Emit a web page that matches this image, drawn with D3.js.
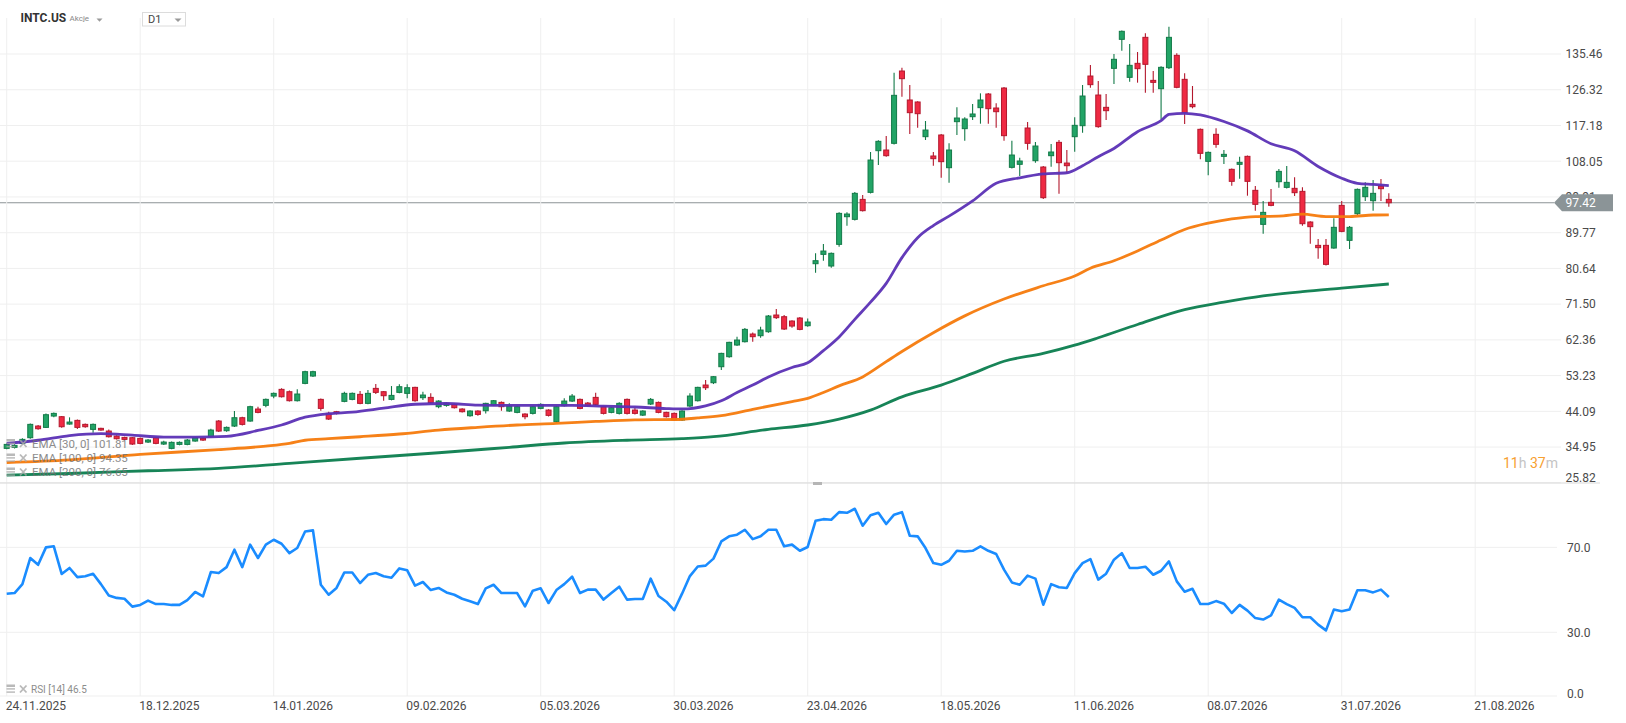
<!DOCTYPE html>
<html>
<head>
<meta charset="utf-8">
<script src="https://cdn.jsdelivr.net/npm/d3@7"></script>
<style>
  body { margin: 0; background: #fff; overflow: hidden; }
  svg text { font-family: Roboto, "Noto Sans", sans-serif; }
</style>
</head>
<body>
<div id="chart-widget"></div>
<script>
// INTC.US, D1 candles (index = trading day from 24.11.2025)
const dateLabels = ['24.11.2025', '18.12.2025', '14.01.2026', '09.02.2026', '05.03.2026', '30.03.2026',
  '23.04.2026', '18.05.2026', '11.06.2026', '08.07.2026', '31.07.2026', '21.08.2026'];
const dateIdx = [0, 17, 34, 51, 68, 85, 102, 119, 136, 153, 170, 187];

const priceTicks = [135.46, 126.32, 117.18, 108.05, 98.91, 89.77, 80.64, 71.50, 62.36, 53.23, 44.09, 34.95, 25.82];
const rsiTicks = [70, 30, 0];

const openP = [
  34.62, 34.88, 35.90, 37.35, 40.33, 39.99, 42.89, 42.72, 40.84, 41.78,
  40.76, 39.48, 39.74, 39.05, 37.77, 37.43, 37.35, 37.18, 36.24, 37.35,
  35.73, 34.62, 35.64, 35.64, 36.50, 37.18, 37.60, 41.61, 39.14, 40.33,
  42.46, 41.61, 44.68, 45.62, 48.00, 49.71, 49.11, 46.81, 51.24, 53.12,
  47.15, 43.57, 44.00, 46.64, 47.15, 48.43, 46.13, 49.96, 49.11, 47.15,
  48.94, 48.69, 50.22, 47.58, 47.66, 45.28, 45.62, 45.87, 44.68, 42.97,
  44.17, 44.25, 45.70, 46.38, 44.17, 43.83, 43.40, 43.57, 44.85, 44.42,
  41.44, 45.53, 46.72, 47.15, 46.20, 47.66, 45.28, 43.83, 43.57, 47.15,
  44.42, 43.13, 45.96, 46.38, 43.83, 43.57, 41.87, 45.45, 46.81, 50.82,
  51.41, 55.50, 58.06, 61.05, 61.90, 63.86, 63.43, 64.45, 68.72, 68.29,
  67.18, 67.95, 65.99, 81.84, 84.23, 81.25, 86.79, 93.86, 93.18, 98.29,
  100.08, 110.74, 110.91, 112.62, 131.11, 123.70, 123.19, 114.32, 109.38, 114.75,
  106.39, 118.16, 116.37, 119.43, 121.74, 125.23, 121.65, 126.76, 106.48, 107.25,
  116.54, 108.18, 106.56, 109.46, 112.87, 107.58, 114.32, 117.13, 129.83, 124.97,
  121.82, 131.79, 139.21, 129.49, 133.07, 139.72, 128.72, 126.59, 131.96, 135.12,
  128.98, 122.59, 116.20, 108.01, 114.92, 109.29, 105.97, 107.25, 109.29, 100.60,
  91.90, 97.53, 102.81, 101.36, 101.11, 100.34, 92.50, 86.53, 86.53, 85.85,
  96.76, 87.81, 94.63, 98.98, 97.95, 101.70, 98.29];
const highP = [
  35.90, 35.70, 37.20, 41.00, 40.60, 43.57, 43.80, 42.90, 42.55, 42.00,
  41.00, 41.00, 39.90, 39.48, 38.00, 37.60, 37.50, 37.40, 37.00, 37.60,
  36.58, 36.40, 36.40, 37.00, 37.60, 37.40, 39.65, 41.87, 40.20, 44.17,
  42.70, 45.50, 45.28, 47.40, 48.90, 50.00, 49.40, 49.71, 54.50, 54.50,
  47.40, 44.00, 44.20, 49.11, 48.90, 49.28, 49.54, 51.07, 49.30, 50.56,
  50.99, 50.99, 50.40, 49.11, 48.69, 46.90, 46.38, 46.10, 44.90, 44.40,
  44.40, 46.30, 47.00, 46.60, 46.13, 45.50, 43.60, 45.50, 46.13, 44.60,
  45.50, 47.41, 48.52, 47.40, 46.50, 48.86, 45.50, 45.20, 46.40, 47.40,
  45.02, 44.40, 47.49, 46.60, 44.00, 43.80, 44.40, 48.69, 50.40, 52.09,
  53.12, 59.10, 61.90, 63.18, 65.39, 64.28, 65.73, 68.70, 70.25, 68.72,
  67.40, 68.20, 67.86, 84.49, 86.87, 84.70, 95.00, 94.97, 100.17, 99.40,
  110.40, 113.40, 114.49, 130.69, 131.96, 127.53, 123.40, 118.33, 110.40, 115.00,
  112.62, 121.82, 119.26, 122.67, 125.40, 125.50, 122.84, 127.00, 113.30, 108.95,
  118.07, 112.96, 106.80, 112.45, 113.47, 110.91, 119.26, 127.53, 132.65, 128.55,
  125.23, 135.46, 141.50, 138.02, 135.97, 140.74, 131.11, 132.30, 142.45, 135.63,
  130.52, 127.28, 116.40, 110.50, 116.45, 110.91, 106.20, 109.21, 109.50, 101.70,
  97.87, 100.94, 106.05, 106.82, 103.92, 101.36, 92.70, 88.15, 88.15, 93.44,
  97.87, 91.48, 101.10, 102.64, 103.24, 103.49, 99.83];
const lowP = [
  34.40, 34.60, 35.70, 37.10, 39.40, 39.80, 42.55, 39.90, 40.70, 39.57,
  39.90, 38.63, 39.10, 37.40, 36.90, 36.70, 35.50, 35.70, 36.00, 35.70,
  35.50, 34.40, 35.40, 35.40, 36.30, 36.50, 37.40, 38.80, 38.90, 40.10,
  40.50, 41.40, 43.60, 45.11, 47.41, 47.60, 46.60, 46.60, 51.00, 52.90,
  44.25, 41.90, 43.30, 46.40, 46.90, 45.90, 45.90, 48.52, 46.81, 46.90,
  48.70, 47.41, 46.55, 46.98, 46.10, 44.85, 45.28, 44.80, 43.80, 42.72,
  42.97, 43.57, 45.50, 44.25, 43.90, 43.60, 42.04, 43.31, 44.60, 42.80,
  41.20, 45.30, 46.50, 44.60, 45.30, 45.60, 43.30, 43.60, 43.30, 43.30,
  43.30, 42.90, 45.70, 43.60, 42.50, 41.60, 41.60, 45.20, 46.60, 49.54,
  51.07, 54.65, 57.80, 60.80, 61.70, 61.90, 62.92, 64.20, 67.70, 64.90,
  65.48, 64.80, 65.73, 79.54, 82.61, 80.82, 86.19, 91.56, 92.90, 95.20,
  99.80, 107.07, 109.21, 112.30, 124.55, 115.00, 116.62, 113.47, 106.90, 103.84,
  102.56, 114.75, 113.30, 118.58, 117.64, 117.64, 116.62, 113.30, 106.20, 104.26,
  110.99, 107.67, 98.38, 106.65, 99.74, 104.94, 110.48, 115.34, 126.85, 116.60,
  118.58, 127.79, 136.31, 128.38, 128.13, 125.57, 125.57, 118.75, 131.62, 126.70,
  117.56, 121.57, 108.52, 104.43, 111.51, 107.33, 101.79, 103.58, 99.23, 95.40,
  89.51, 96.50, 101.28, 101.10, 99.15, 91.56, 86.96, 83.12, 81.40, 85.68,
  89.90, 85.59, 94.29, 97.87, 95.40, 97.87, 96.42];
const closeP = [
  35.64, 35.39, 36.92, 40.76, 39.65, 43.23, 43.57, 40.16, 41.35, 39.99,
  40.16, 40.76, 39.31, 37.60, 37.09, 36.92, 35.73, 35.90, 36.75, 35.90,
  36.24, 36.16, 36.16, 36.75, 37.35, 36.75, 39.31, 39.05, 39.99, 42.46,
  40.76, 45.28, 43.83, 47.15, 48.69, 47.83, 46.81, 48.52, 54.23, 54.23,
  44.85, 42.12, 43.57, 48.69, 48.69, 46.13, 48.69, 48.94, 48.09, 48.17,
  50.39, 50.13, 46.81, 48.26, 46.30, 46.72, 46.13, 45.02, 44.00, 44.17,
  43.31, 46.13, 46.81, 45.28, 45.45, 45.28, 42.72, 45.28, 45.87, 43.06,
  45.28, 46.72, 48.00, 44.85, 45.53, 45.87, 43.57, 45.02, 46.13, 43.57,
  43.57, 44.17, 47.15, 43.83, 42.72, 41.87, 44.17, 48.00, 50.22, 50.13,
  52.95, 58.91, 61.73, 62.32, 65.05, 63.18, 64.88, 68.46, 68.04, 65.14,
  65.90, 65.05, 66.93, 82.61, 85.08, 84.49, 94.71, 94.54, 99.83, 95.40,
  108.35, 113.13, 109.46, 124.89, 129.15, 120.46, 120.20, 116.02, 108.69, 107.93,
  110.91, 119.09, 118.84, 120.12, 123.70, 121.48, 120.71, 114.58, 109.63, 108.10,
  112.62, 111.93, 98.72, 110.40, 107.67, 106.90, 117.22, 124.72, 127.62, 116.88,
  120.97, 134.10, 141.26, 132.56, 131.71, 132.82, 128.21, 132.05, 139.72, 126.94,
  120.46, 121.99, 110.06, 110.31, 112.36, 109.80, 102.90, 107.76, 102.90, 97.02,
  94.97, 96.76, 105.45, 102.64, 100.00, 92.07, 91.31, 85.94, 81.67, 91.14,
  90.11, 91.14, 100.85, 101.36, 99.83, 101.02, 97.42];

// EMA readings [bar index, value]
const ema30 = [[0, 35.9], [4, 36.7], [8, 37.9], [12, 38.4], [16, 38.0], [20, 37.5], [24, 37.5], [28, 37.7],
  [32, 39.2], [35, 40.6], [38, 42.6], [41, 43.5], [44, 43.9], [48, 44.9], [52, 45.9], [56, 46.1], [60, 45.7],
  [64, 45.6], [68, 45.6], [72, 45.6], [76, 45.4], [80, 45.2], [84, 44.8], [86, 44.7], [89, 45.5], [91, 46.8],
  [93, 48.9], [95, 50.8], [97, 52.9], [100, 55.3], [102, 56.5], [104, 59.6], [106, 63.1], [108, 67.6],
  [110, 72.0], [112, 76.8], [114, 83.4], [116, 88.5], [118, 91.6], [120, 94.0], [123, 97.9], [126, 102.4],
  [129, 103.8], [132, 104.8], [135, 105.1], [137, 106.9], [139, 109.2], [141, 111.3], [144, 115.6],
  [147, 118.4], [148, 120.0], [150, 120.3], [152, 119.9], [155, 118.2], [158, 115.8], [161, 112.5],
  [164, 110.7], [167, 106.7], [170, 103.7], [172, 102.4], [174, 102.1], [176, 101.81]];
const ema100 = [[0, 31.0], [8, 31.7], [17, 33.1], [27, 34.3], [33, 35.2], [36, 35.9], [38, 36.7], [41, 37.1],
  [45, 37.6], [50, 38.3], [55, 39.3], [60, 40.0], [65, 40.6], [70, 41.0], [75, 41.5], [80, 41.9], [85, 42.0],
  [88, 42.4], [91, 43.0], [95, 44.6], [100, 46.6], [102, 47.4], [104, 48.9], [106, 50.6], [109, 52.9],
  [112, 56.8], [114, 59.4], [118, 64.2], [122, 68.5], [127, 72.8], [132, 76.2], [136, 78.7], [138, 80.7],
  [141, 82.6], [144, 85.1], [147, 87.9], [150, 90.6], [153, 92.2], [156, 93.3], [159, 93.9], [162, 94.0],
  [165, 94.5], [168, 93.9], [171, 93.9], [174, 94.3], [176, 94.35]];
const ema200 = [[0, 27.8], [8, 28.2], [18, 28.9], [27, 29.5], [36, 30.8], [45, 32.1], [55, 33.5], [64, 34.9],
  [71, 36.0], [79, 36.7], [86, 37.1], [90, 37.6], [97, 39.5], [102, 40.6], [106, 42.1], [110, 44.4],
  [114, 47.8], [119, 50.8], [123, 53.8], [127, 56.9], [132, 58.9], [136, 61.0], [139, 62.9], [144, 66.3],
  [150, 70.1], [155, 72.0], [160, 73.6], [165, 74.7], [170, 75.6], [176, 76.65]];

const rsi14 = [
  48.2, 48.5, 52.7, 65.0, 61.8, 70.0, 70.5, 57.5, 60.3, 56.0,
  56.4, 57.6, 52.7, 47.3, 46.2, 45.8, 42.1, 42.9, 44.9, 43.3,
  43.3, 42.9, 42.9, 45.2, 49.0, 46.9, 58.4, 57.9, 60.7, 68.9,
  60.7, 71.3, 65.0, 71.3, 73.6, 71.7, 67.3, 69.7, 77.5, 78.0,
  52.4, 47.7, 50.9, 58.2, 58.2, 53.2, 57.1, 57.9, 56.4, 55.7,
  60.1, 59.2, 52.0, 53.7, 49.9, 50.9, 48.8, 47.7, 45.8, 44.6,
  43.3, 50.7, 52.4, 48.5, 48.5, 48.5, 42.2, 49.6, 50.7, 43.8,
  49.9, 52.7, 56.2, 48.5, 50.1, 50.1, 45.4, 48.5, 51.5, 45.4,
  45.7, 45.7, 55.3, 47.1, 44.4, 40.4, 48.2, 56.5, 61.0, 61.4,
  64.7, 72.8, 75.2, 76.0, 78.3, 73.9, 75.2, 78.3, 78.3, 70.5,
  71.3, 68.4, 70.2, 82.5, 83.3, 83.0, 86.6, 86.3, 88.2, 80.2,
  85.1, 86.3, 81.0, 85.4, 86.6, 75.5, 75.2, 69.7, 62.6, 61.8,
  63.7, 68.4, 68.1, 68.4, 70.5, 68.4, 66.9, 59.5, 53.5, 52.4,
  56.7, 55.3, 43.0, 52.7, 51.2, 50.9, 57.9, 62.6, 64.5, 54.8,
  57.6, 64.2, 67.3, 60.3, 60.3, 60.9, 57.1, 59.0, 63.4, 54.0,
  49.1, 50.5, 43.3, 43.3, 44.7, 43.5, 39.1, 42.9, 40.2, 36.7,
  36.0, 38.0, 45.4, 43.3, 41.5, 37.1, 37.1, 33.6, 30.9, 40.7,
  39.9, 40.7, 49.8, 49.8, 48.8, 50.1, 46.6];

class CandleChart {
  constructor(widgetID = 'chart-widget') {
    this.width = 1626;
    this.height = 723;
    this.gridTop = 18;
    this.paneSplit = 483;

    this.svg = d3.select('#' + widgetID)
      .append('svg')
      .attr('width', this.width)
      .attr('height', this.height);

    this.x = d3.scaleLinear().domain([0, 187]).range([6.7, 1475.2]);
    this.y = d3.scaleLinear().domain([25.82, 135.46]).range([482.8, 54]);
    this.ry = d3.scaleLinear().domain([0, 100]).range([696, 483.7]);

    this.drawGrid();
    this.drawAxes();
    this.drawCandles();
    this.drawEmas();
    this.drawRsi();
    this.drawHeader();
    this.drawLegends();
    this.drawLastPrice();
  }

  drawGrid() {
    const x = this.x, y = this.y, ry = this.ry;
    const grid = this.svg.append('g').attr('stroke', '#efefef').attr('stroke-width', 1);

    grid.selectAll('line.v').data(dateIdx).join('line')
      .attr('x1', d => x(d)).attr('x2', d => x(d))
      .attr('y1', this.gridTop).attr('y2', 696);

    grid.selectAll('line.h').data(priceTicks).join('line')
      .attr('x1', 0).attr('x2', 1561)
      .attr('y1', d => y(d)).attr('y2', d => y(d));

    grid.selectAll('line.r').data(rsiTicks).join('line')
      .attr('x1', 0).attr('x2', 1557)
      .attr('y1', d => ry(d)).attr('y2', d => ry(d));

    this.svg.append('line')
      .attr('x1', 0).attr('x2', 1600)
      .attr('y1', this.paneSplit).attr('y2', this.paneSplit)
      .attr('stroke', '#d9d9d9');
    this.svg.append('rect')
      .attr('x', 813).attr('y', this.paneSplit - 1).attr('width', 9).attr('height', 3)
      .attr('fill', '#b5b5b5');
  }

  drawAxes() {
    const priceAxis = d3.axisRight(this.y)
      .tickValues(priceTicks)
      .tickFormat(d3.format('.2f'))
      .tickSize(0).tickPadding(0);
    const pa = this.svg.append('g')
      .attr('transform', 'translate(1565.5,0)')
      .call(priceAxis);
    pa.select('.domain').remove();
    pa.selectAll('text').filter(d => d === 25.82).attr('dy', '-0.1em');

    const rsiAxis = d3.axisRight(this.ry)
      .tickValues(rsiTicks)
      .tickFormat(d3.format('.1f'))
      .tickSize(0).tickPadding(0);
    const ra = this.svg.append('g')
      .attr('transform', 'translate(1567,0)')
      .call(rsiAxis);
    ra.select('.domain').remove();
    ra.selectAll('text').filter(d => d === 0).attr('dy', '0.1em');

    const dateAxis = d3.axisBottom(this.x)
      .tickValues(dateIdx)
      .tickFormat((d, i) => dateLabels[i])
      .tickSize(0).tickPadding(3);
    const da = this.svg.append('g')
      .attr('transform', 'translate(0,698)')
      .call(dateAxis);
    da.select('.domain').remove();
    da.selectAll('text').attr('text-anchor', 'start').attr('dx', -1.5);

    [pa, ra, da].forEach(a => a.selectAll('text')
      .attr('fill', '#4a4a4a')
      .style('font-size', '12px')
      .style('font-family', 'Roboto, sans-serif'));
  }

  drawCandles() {
    const x = this.x, y = this.y;
    const candles = closeP.map((c, i) => ({ i: i, o: openP[i], h: highP[i], l: lowP[i], c: c }));
    const up = d => d.c >= d.o;

    const g = this.svg.append('g');
    const cg = g.selectAll('g').data(candles).join('g');
    cg.append('line')
      .attr('x1', d => x(d.i)).attr('x2', d => x(d.i))
      .attr('y1', d => y(d.h)).attr('y2', d => y(d.l))
      .attr('stroke', d => up(d) ? '#137a48' : '#b3182d')
      .attr('stroke-width', 1.1);
    cg.append('rect')
      .attr('x', d => x(d.i) - 2.5)
      .attr('width', 5)
      .attr('y', d => y(Math.max(d.o, d.c)))
      .attr('height', d => Math.max(1.5, Math.abs(y(d.o) - y(d.c))))
      .attr('fill', d => up(d) ? '#22a466' : '#ef2a43')
      .attr('stroke', d => up(d) ? '#137a48' : '#b3182d')
      .attr('stroke-width', 1);
  }

  drawEmas() {
    const line = d3.line()
      .x(d => this.x(d[0]))
      .y(d => this.y(d[1]))
      .curve(d3.curveMonotoneX);
    const series = [
      { data: ema200, color: '#0b7d4e' },
      { data: ema100, color: '#f57a0c' },
      { data: ema30, color: '#5b30b5' }
    ];
    this.svg.append('g').selectAll('path').data(series).join('path')
      .attr('d', d => line(d.data))
      .attr('fill', 'none')
      .attr('stroke', d => d.color)
      .attr('stroke-width', 2.8)
      .attr('stroke-linejoin', 'round')
      .attr('stroke-opacity', 0.95);
  }

  drawRsi() {
    const line = d3.line()
      .x((d, i) => this.x(i))
      .y(d => this.ry(d));
    this.svg.append('path')
      .datum(rsi14)
      .attr('d', line)
      .attr('fill', 'none')
      .attr('stroke', '#1a8cff')
      .attr('stroke-width', 2.6)
      .attr('stroke-linejoin', 'round');
  }

  drawHeader() {
    const h = this.svg.append('g');
    h.append('text').attr('x', 20.5).attr('y', 22.3)
      .style('font-size', '12px').style('font-weight', 'bold')
      .attr('fill', '#333').text('INTC.US');
    h.append('text').attr('x', 69.5).attr('y', 21)
      .style('font-size', '8px').attr('fill', '#888').text('Akcje');
    h.append('path').attr('d', 'M96.5,18.5 L102.5,18.5 L99.5,21.8 Z').attr('fill', '#9a9a9a');

    h.append('rect').attr('x', 142.5).attr('y', 12.5).attr('width', 43).attr('height', 13.5)
      .attr('fill', '#fff').attr('stroke', '#dcdcdc');
    h.append('text').attr('x', 148).attr('y', 23)
      .style('font-size', '11px').attr('fill', '#444').text('D1');
    h.append('path').attr('d', 'M174.5,18.5 L181.5,18.5 L178,22 Z').attr('fill', '#9a9a9a');
  }

  legendIcons(g, cy) {
    g.append('rect').attr('x', 6.5).attr('y', cy - 4.5).attr('width', 8.5).attr('height', 2.5).attr('fill', '#a8a8a8');
    g.append('rect').attr('x', 6.5).attr('y', cy - 0.8).attr('width', 8.5).attr('height', 1.4).attr('fill', '#a8a8a8');
    g.append('rect').attr('x', 6.5).attr('y', cy + 2.4).attr('width', 8.5).attr('height', 1.4).attr('fill', '#a8a8a8');
    g.append('path')
      .attr('d', `M20,${cy - 3.5} L26.5,${cy + 3.5} M26.5,${cy - 3.5} L20,${cy + 3.5}`)
      .attr('stroke', '#a8a8a8').attr('stroke-width', 1.8);
  }

  drawLegends() {
    const rows = [
      { label: 'EMA [30, 0] 101.81', cy: 443.5 },
      { label: 'EMA [100, 0] 94.35', cy: 458 },
      { label: 'EMA [200, 0] 76.65', cy: 472 }
    ];
    const g = this.svg.append('g').attr('opacity', 0.8);
    rows.forEach(r => {
      this.legendIcons(g, r.cy);
      g.append('text').attr('x', 32).attr('y', r.cy + 4)
        .style('font-size', '11.5px').attr('fill', '#707070').text(r.label);
    });

    const rg = this.svg.append('g').attr('opacity', 0.8);
    this.legendIcons(rg, 689);
    rg.append('text').attr('x', 31).attr('y', 692.5)
      .style('font-size', '10px').attr('fill', '#707070').text('RSI [14] 46.5');

    const t = this.svg.append('text').attr('x', 1503).attr('y', 468)
      .style('font-size', '14px');
    t.append('tspan').attr('fill', '#f7a030').text('11');
    t.append('tspan').attr('fill', '#c4c4c4').text('h ');
    t.append('tspan').attr('fill', '#f7a030').text('37');
    t.append('tspan').attr('fill', '#c4c4c4').text('m');
  }

  drawLastPrice() {
    const last = closeP[closeP.length - 1];
    const py = this.y(last);
    this.svg.insert('line', 'g')
      .attr('x1', 0).attr('x2', 1554)
      .attr('y1', py).attr('y2', py)
      .attr('stroke', '#8c9396').attr('stroke-width', 1.2);
    this.svg.append('path')
      .attr('d', `M1554,${py} L1562,${py - 8.5} L1613,${py - 8.5} L1613,${py + 8.5} L1562,${py + 8.5} Z`)
      .attr('fill', '#8b9497');
    this.svg.append('text')
      .attr('x', 1565.5).attr('y', py + 4.2)
      .style('font-size', '12px').attr('fill', '#fff')
      .text(d3.format('.2f')(last));
  }
}

const chart = new CandleChart('chart-widget');
</script>
</body>
</html>
